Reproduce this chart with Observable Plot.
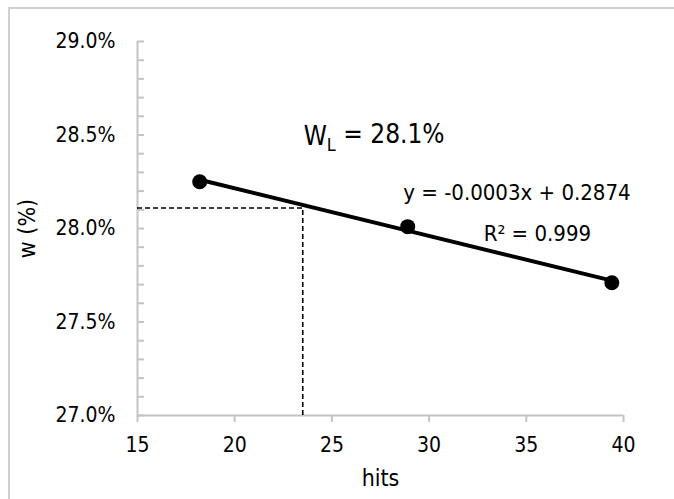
<!DOCTYPE html>
<html>
<head>
<meta charset="utf-8">
<script src="https://cdn.jsdelivr.net/npm/d3@7"></script>
<script src="https://cdn.jsdelivr.net/npm/@observablehq/plot@0.6"></script>
<style>
  html, body { margin: 0; padding: 0; background: #fff; }
  #chart { width: 674px; height: 499px; overflow: hidden; }
  #chart g[aria-label*="tick label"] text, #chart g[aria-label*="tick label"] { font-size: 21px; }
  #chart g[aria-label="x-axis label"] text, #chart g[aria-label="y-axis label"] text,
  #chart g[aria-label="x-axis label"], #chart g[aria-label="y-axis label"] { font-size: 23px; }
</style>
</head>
<body>
<div id="chart"></div>
<script>
// Data
const hits = [18.2, 28.9, 39.4];
const wValues = [0.2825, 0.2801, 0.2771];

// Axis ticks
const xTicks = [15, 20, 25, 30, 35, 40];
const yTicks = [0.27, 0.275, 0.28, 0.285, 0.29];
const yMinorTicks = [0.270, 0.271, 0.272, 0.273, 0.274, 0.275, 0.276, 0.277, 0.278, 0.279, 0.280,
                     0.281, 0.282, 0.283, 0.284, 0.285, 0.286, 0.287, 0.288, 0.289, 0.290];
const xLabel = "hits";
const yLabel = "w (%)";

// Liquid-limit reading (dashed guide lines)
const wlHits = [23.5];
const wlValue = [0.2811];
const xMin = [15];
const yMin = [0.27];

// Annotations
const wlMain = "W", wlSub = "L", wlRest = " = 28.1%";
const eqText = "y = -0.0003x + 0.2874";
const r2Text = "R² = 0.999";
const wlPos = {x: 27.17, y: 0.2849};
const eqPos = {x: 34.52, y: 0.2819};
const r2Pos = {x: 35.57, y: 0.2797};

const data = hits.map((h, i) => ({hits: h, w: wValues[i]}));

const axisGray = "#c4c4c4";
const fontFam = "'DejaVu Sans Condensed', 'DejaVu Sans', sans-serif";
const chart = Plot.plot({
  width: 674,
  height: 499,
  marginLeft: 137,
  marginRight: 51,
  marginTop: 41,
  marginBottom: 84,
  style: {fontFamily: fontFam, fontSize: "21px", color: "#000", background: "#fff", overflow: "visible"},
  x: {domain: [15, 40]},
  y: {domain: [0.27, 0.29]},
  marks: [
    Plot.ruleX(xMin, {stroke: axisGray, strokeWidth: 2}),
    Plot.ruleY(yMin, {stroke: axisGray, strokeWidth: 2}),
    Plot.axisX({ticks: xTicks, tickSize: 7, tickPadding: 15, stroke: axisGray, strokeWidth: 2,
      label: xLabel, labelAnchor: "center", labelArrow: "none", labelOffset: 70}),
    Plot.axisY({ticks: yMinorTicks, tickSize: 7, text: null, dx: 7, stroke: axisGray, strokeWidth: 2, label: null}),
    Plot.axisY({ticks: yTicks, tickSize: 0, tickPadding: 22, tickFormat: d3.format(".1%"),
      label: yLabel, labelAnchor: "center", labelArrow: "none", labelOffset: 119}),
    Plot.ruleX(wlHits, {y1: yMin[0], y2: wlValue[0], stroke: "#000", strokeWidth: 1.6, strokeDasharray: "5,3"}),
    Plot.ruleY(wlValue, {x1: xMin[0], x2: wlHits[0], stroke: "#000", strokeWidth: 1.6, strokeDasharray: "5,3"}),
    Plot.linearRegressionY(data, {x: "hits", y: "w", ci: 0, stroke: "#000", strokeWidth: 4}),
    Plot.dot(data, {x: "hits", y: "w", r: 7.5, fill: "#000", stroke: null}),
    Plot.text([wlPos], {x: "x", y: "y", text: () => wlMain + wlSub + wlRest, fontSize: 26, textAnchor: "middle", lineAnchor: "middle", fill: "#000"}),
    Plot.text([eqPos], {x: "x", y: "y", text: () => eqText, fontSize: 22, textAnchor: "middle", lineAnchor: "middle", fill: "#000"}),
    Plot.text([r2Pos], {x: "x", y: "y", text: () => r2Text, fontSize: 22, textAnchor: "middle", lineAnchor: "middle", fill: "#000"})
  ]
});
document.getElementById("chart").appendChild(chart);

// Subscript "L" in W_L
d3.select(chart).selectAll("text").each(function() {
  if (this.textContent === wlMain + wlSub + wlRest) {
    const t = d3.select(this);
    t.text(null);
    t.append("tspan").text(wlMain);
    t.append("tspan").attr("font-size", "18px").attr("dy", "0.3em").text(wlSub);
    t.append("tspan").attr("dy", "-0.3em").text(wlRest);
  }
});

// Chart-area border (left and top edges visible in the picture)
d3.select(chart).append("path")
  .attr("d", "M9,499V8H674")
  .attr("fill", "none")
  .attr("stroke", "#d0d0d0")
  .attr("stroke-width", 2);
</script>
</body>
</html>
